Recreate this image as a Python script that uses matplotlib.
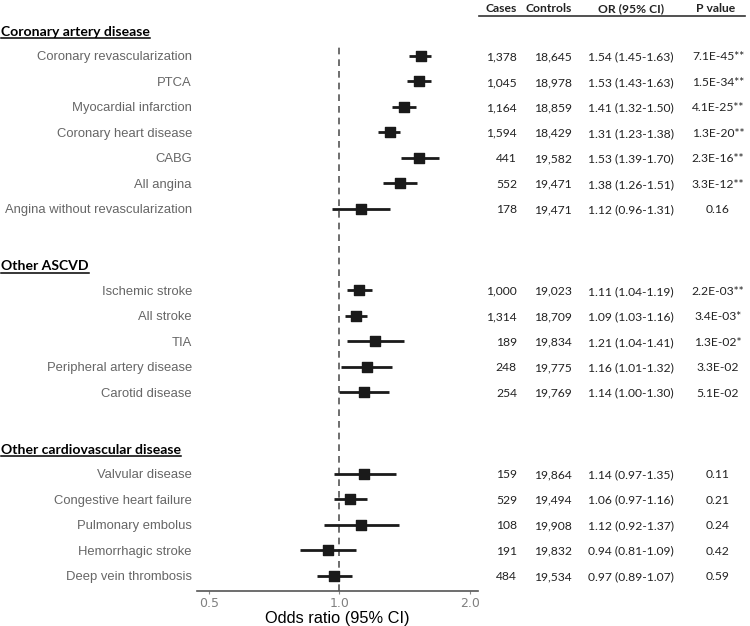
import numpy as np
import matplotlib.pyplot as plt
from matplotlib import transforms
from matplotlib.lines import Line2D

groups = ["Coronary artery disease", "Other ASCVD", "Other cardiovascular disease"]
group_sizes = [7, 5, 5]
outcomes = ["Coronary revascularization", "PTCA", "Myocardial infarction",
            "Coronary heart disease", "CABG", "All angina",
            "Angina without revascularization",
            "Ischemic stroke", "All stroke", "TIA", "Peripheral artery disease",
            "Carotid disease",
            "Valvular disease", "Congestive heart failure", "Pulmonary embolus",
            "Hemorrhagic stroke", "Deep vein thrombosis"]
cases = ["1,378", "1,045", "1,164", "1,594", "441", "552", "178",
         "1,000", "1,314", "189", "248", "254",
         "159", "529", "108", "191", "484"]
controls = ["18,645", "18,978", "18,859", "18,429", "19,582", "19,471", "19,471",
            "19,023", "18,709", "19,834", "19,775", "19,769",
            "19,864", "19,494", "19,908", "19,832", "19,534"]
odds = [1.54, 1.53, 1.41, 1.31, 1.53, 1.38, 1.12,
        1.11, 1.09, 1.21, 1.16, 1.14,
        1.14, 1.06, 1.12, 0.94, 0.97]
lower = [1.45, 1.43, 1.32, 1.23, 1.39, 1.26, 0.96,
         1.04, 1.03, 1.04, 1.01, 1.00,
         0.97, 0.97, 0.92, 0.81, 0.89]
upper = [1.63, 1.63, 1.50, 1.38, 1.70, 1.51, 1.31,
         1.19, 1.16, 1.41, 1.32, 1.30,
         1.35, 1.16, 1.37, 1.09, 1.07]
pvals = ["7.1E-45**", "1.5E-34**", "4.1E-25**", "1.3E-20**", "2.3E-16**", "3.3E-12**", "0.16",
         "2.2E-03**", "3.4E-03*", "1.3E-02*", "3.3E-02", "5.1E-02",
         "0.11", "0.21", "0.24", "0.42", "0.59"]
col_titles = ["Cases", "Controls", "OR (95% CI)", "P value"]

# row positions: unit spacing inside a group, bigger gap between groups
ypos = []
headers_y = []
start = 0.0
for n in group_sizes:
    headers_y.append(start - 0.98)
    ypos += [start + i for i in range(n)]
    start += n - 1 + 3.2
ypos = np.array(ypos)

W, H = 750, 626
fig = plt.figure(figsize=(W / 100, H / 100), dpi=100)
ax = fig.add_axes([197 / W, (H - 591) / H, 281 / W, (591 - 45) / H])

ax.axvline(1.0, color="#555555", lw=1.2, ls=(0, (4, 3)), zorder=1)
ax.hlines(ypos, lower, upper, color="#1a1a1a", lw=2, zorder=2)
ax.scatter(odds, ypos, marker="s", s=62, color="#1a1a1a", zorder=3)

ax.set_xscale("log", base=2)
ax.set_xlim(0.469, 2.09)
ax.set_ylim(21.0, -0.43)
ax.set_xticks([0.5, 1.0, 2.0])
ax.set_xticklabels(["0.5", "1.0", "2.0"])
ax.xaxis.set_minor_locator(plt.NullLocator())
ax.tick_params(axis="x", length=2, width=0.8, colors="#888888", labelsize=9,
               pad=2, labelcolor="#808080")
ax.set_yticks([])
for side in ["top", "right", "left"]:
    ax.spines[side].set_visible(False)
ax.spines["bottom"].set_color("#555555")
ax.spines["bottom"].set_linewidth(1.2)
ax.set_xlabel("Odds ratio (95% CI)", fontsize=11.8, family="Liberation Sans",
              color="black", labelpad=1)

trans = transforms.blended_transform_factory(fig.transFigure, ax.transData)
tab_font = "Lato"

for y, name in zip(ypos, outcomes):
    ax.text(192 / W, y, name, transform=trans, ha="right", va="center_baseline",
            fontsize=9.4, family="Liberation Sans", color="#666666", clip_on=False)

head_texts = []
for y, g in zip(headers_y, groups):
    t = ax.text(1 / W, y, g, transform=trans, ha="left", va="center_baseline",
                fontsize=10.1, family=tab_font, weight="bold", color="black",
                clip_on=False)
    head_texts.append(t)

for y, c, k, o, lo, hi, p in zip(ypos, cases, controls, odds, lower, upper, pvals):
    kw = dict(transform=trans, va="center_baseline", fontsize=8.7, family=tab_font,
              color="#222222", clip_on=False)
    ax.text(517 / W, y, c, ha="right", **kw)
    ax.text(572 / W, y, k, ha="right", **kw)
    ax.text(631 / W, y, f"{o:.2f} ({lo:.2f}-{hi:.2f})", ha="center", **kw)
    ax.text(718 / W, y, p, ha="center", **kw)

# table column titles
title_y = -1.9
title_x = [517, 572, 631, 716]
title_ha = ["right", "right", "center", "center"]
for x, t, ha in zip(title_x, col_titles, title_ha):
    ax.text(x / W, title_y, t, transform=trans, ha=ha, va="center_baseline",
            fontsize=8.7, family=tab_font, weight="bold", color="#222222",
            clip_on=False)
ax.add_line(Line2D([479 / W, 745 / W], [-1.58, -1.58], transform=trans,
                   color="#333333", lw=1.2, clip_on=False))

# underline group headers
fig.canvas.draw()
r = fig.canvas.get_renderer()
for t in head_texts:
    bb = t.get_window_extent(r)
    yline = bb.y0 - 0.5
    fig.add_artist(Line2D([bb.x0 / W, bb.x1 / W], [yline / H, yline / H],
                          transform=fig.transFigure, color="black", lw=1.1))

fig.savefig("out.png", dpi=100)
